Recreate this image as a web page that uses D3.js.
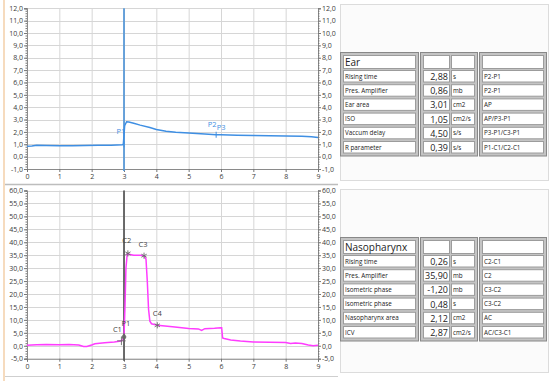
<!DOCTYPE html>
<html>
<head>
<meta charset="utf-8">
<script src="https://cdn.jsdelivr.net/npm/d3@7"></script>
<style>
  body { margin: 0; background: #fff; }
  text { font-family: 'Open Sans', 'Noto Sans', sans-serif; }
</style>
</head>
<body>
<div id="chart"></div>
<script>
// ear pressure curve (top plot)
var earX = [0, 0.15, 0.3, 0.6, 1.0, 1.4, 1.8, 2.2, 2.6, 2.95, 2.98, 3.02, 3.08, 3.15, 3.3, 3.5, 3.8, 4.0, 4.3, 4.6, 5.0, 5.5, 5.85, 6.0, 6.5, 7.0, 7.5, 8.0, 8.5, 8.8, 9.0];
var earY = [0.85, 0.86, 0.93, 0.9, 0.88, 0.89, 0.9, 0.92, 0.93, 0.97, 1.0, 2.5, 2.82, 2.8, 2.7, 2.55, 2.35, 2.2, 2.05, 1.97, 1.92, 1.84, 1.78, 1.77, 1.74, 1.71, 1.69, 1.66, 1.65, 1.6, 1.55];

// nasopharynx pressure curve (bottom plot)
var nasoX = [0, 0.3, 0.6, 1.0, 1.3, 1.6, 1.75, 1.85, 2.0, 2.1, 2.4, 2.7, 2.9, 2.96, 3.0, 3.03, 3.06, 3.1, 3.15, 3.3, 3.5, 3.62, 3.68, 3.72, 3.76, 3.8, 3.85, 4.03, 4.5, 5.0, 5.3, 5.4, 5.5, 5.8, 6.0, 6.02, 6.05, 6.1, 6.3, 6.6, 7.0, 7.5, 8.0, 8.15, 8.3, 8.5, 8.7, 8.85, 9.0];
var nasoY = [0.2, 0.4, 0.5, 0.4, 0.5, 0.3, -0.3, -0.3, 0.3, 0.8, 1.2, 1.5, 1.8, 2.2, 3.5, 15, 30, 35.5, 35.4, 35.0, 35.0, 34.8, 33.5, 25, 14, 9.5, 8.5, 7.9, 7.3, 6.7, 6.5, 5.9, 6.6, 6.8, 7.0, 7.0, 3.0, 2.8, 2.2, 1.8, 1.5, 1.4, 1.3, 0.9, 1.1, 0.9, 0.3, 0.0, 0.2];

// cursor markers
var earMarkNames = ["P1", "P2", "P3"];
var earMarkX = [3.0, 5.85, 5.85];
var earMarkY = [1.0, 1.77, 1.77];
var nasoMarkNames = ["C1", "P1", "C2", "C3", "C4"];
var nasoMarkX = [2.92, 3.0, 3.12, 3.62, 4.03];
var nasoMarkY = [1.9, 3.4, 35.7, 34.8, 7.9];

var xTicks = [0, 1, 2, 3, 4, 5, 6, 7, 8, 9];
var earTicks = [-1, 0, 1, 2, 3, 4, 5, 6, 7, 8, 9, 10, 11, 12];
var nasoTicks = [-5, 0, 5, 10, 15, 20, 25, 30, 35, 40, 45, 50, 55, 60];
var cursorX = 3;

// result tables
var earTitle = "Ear";
var earLabels = ["Rising time", "Pres. Amplifier", "Ear area", "ISO", "Vaccum delay", "R parameter"];
var earValues = [2.88, 0.86, 3.01, 1.05, 4.50, 0.39];
var earUnits = ["s", "mb", "cm2", "cm2/s", "s/s", "s/s"];
var earRefs = ["P2-P1", "P2-P1", "AP", "AP/P3-P1", "P3-P1/C3-P1", "P1-C1/C2-C1"];

var nasoTitle = "Nasopharynx";
var nasoLabels = ["Rising time", "Pres. Amplifier", "Isometric phase", "Isometric phase", "Nasopharynx area", "ICV"];
var nasoValues = [0.26, 35.90, -1.20, 0.48, 2.12, 2.87];
var nasoUnits = ["s", "mb", "mb", "s", "cm2", "cm2/s"];
var nasoRefs = ["C2-C1", "C2", "C3-C2", "C3-C2", "AC", "AC/C3-C1"];

var width = 550,
  height = 381;

var locale = d3.formatLocale({ decimal: ",", thousands: ".", grouping: [3], currency: ["", ""], minus: "-" });
var fmt1 = locale.format(".1f");
var fmt2 = locale.format(".2f");

var svg = d3.select("#chart")
  .append("svg")
  .attr("width", width)
  .attr("height", height);

// window edge + panel separators
svg.append("line").attr("x1", 4).attr("x2", 4).attr("y1", 0).attr("y2", height)
  .attr("stroke", "#f3cfa8").attr("stroke-width", 1.5);
svg.append("line").attr("x1", 5).attr("x2", 338).attr("y1", 184.5).attr("y2", 184.5)
  .attr("stroke", "#bdbdbd").attr("stroke-width", 1.5);
svg.append("line").attr("x1", 5).attr("x2", 338).attr("y1", 376.5).attr("y2", 376.5)
  .attr("stroke", "#cfcfcf").attr("stroke-width", 1);
svg.append("rect").attr("x", 340.5).attr("y", 4.5).attr("width", 208).attr("height", 176)
  .attr("fill", "#fbfbfb").attr("stroke", "#dcdcdc");
svg.append("rect").attr("x", 340.5).attr("y", 189.5).attr("width", 208).attr("height", 183)
  .attr("fill", "#fbfbfb").attr("stroke", "#dcdcdc");

var x = d3.scaleLinear().domain([0, 9]).range([27, 318]);
var yEar = d3.scaleLinear().domain([-1, 12]).range([169, 8.3]);
var yNaso = d3.scaleLinear().domain([-5, 60]).range([358.7, 190.5]);

drawPlot(yEar, earTicks, 0.2, earX, earY, "#3f8fe3", "#5a9ad8");
drawPlot(yNaso, nasoTicks, 1, nasoX, nasoY, "#ff3cff", "#5c5c5c");

// ear markers
var earLabelPos = { "P1": [-3, -10], "P2": [-4, -8], "P3": [5, -5] };
earMarkNames.forEach(function(n, i) {
  var px = x(earMarkX[i]), py = yEar(earMarkY[i]);
  if (n !== "P3") {
    svg.append("line").attr("x1", px).attr("x2", px).attr("y1", py - 3).attr("y2", py + 3)
      .attr("stroke", "#3f8fe3").attr("stroke-width", 1);
  }
  svg.append("text").text(n)
    .attr("x", px + earLabelPos[n][0]).attr("y", py + earLabelPos[n][1])
    .attr("text-anchor", "middle").attr("font-size", "7.5px").attr("fill", "#3f8fe3");
});

// nasopharynx markers
var nasoLabelPos = { "C1": [-4, -9], "P1": [2, -11], "C2": [-1, -10], "C3": [-1, -9], "C4": [0, -9] };
var nasoSymbols = { "C1": d3.symbolPlus, "P1": d3.symbolDiamond, "C2": d3.symbolAsterisk, "C3": d3.symbolAsterisk, "C4": d3.symbolAsterisk };
nasoMarkNames.forEach(function(n, i) {
  var px = x(nasoMarkX[i]), py = yNaso(nasoMarkY[i]);
  svg.append("path")
    .attr("d", d3.symbol().type(nasoSymbols[n]).size(n === "P1" ? 14 : 26)())
    .attr("transform", "translate(" + px + "," + py + ")")
    .attr("fill", n === "P1" ? "#666" : "none")
    .attr("stroke", "#6a6a6a").attr("stroke-width", 0.9);
  svg.append("text").text(n)
    .attr("x", px + nasoLabelPos[n][0]).attr("y", py + nasoLabelPos[n][1])
    .attr("text-anchor", "middle").attr("font-size", "7.5px").attr("fill", "#444");
});

drawTable(52, earTitle, earLabels, earValues, earUnits, earRefs);
drawTable(237, nasoTitle, nasoLabels, nasoValues, nasoUnits, nasoRefs);

function drawPlot(y, yTicks, minorStep, lx, ly, color, cursorColor) {
  var g = svg.append("g");
  var y0 = y.range()[0], y1 = y.range()[1];
  var lo = yTicks[0], hi = yTicks[yTicks.length - 1];
  var minor = d3.range(lo, hi + minorStep / 2, minorStep);

  g.append("rect").attr("x", x(0)).attr("y", y1).attr("width", x(9) - x(0)).attr("height", y0 - y1)
    .attr("fill", "#fff");

  // grid
  g.selectAll(".vgrid").data(xTicks).enter().append("line")
    .attr("x1", function(d) { return x(d) + 0.5; })
    .attr("x2", function(d) { return x(d) + 0.5; })
    .attr("y1", y1).attr("y2", y0)
    .attr("stroke", "#d6d6d6");
  g.selectAll(".hgrid").data(yTicks).enter().append("line")
    .attr("x1", x(0)).attr("x2", x(9))
    .attr("y1", function(d) { return Math.round(y(d)) + 0.5; })
    .attr("y2", function(d) { return Math.round(y(d)) + 0.5; })
    .attr("stroke", "#d6d6d6");

  // axes
  var left = g.append("g").attr("transform", "translate(" + x(0) + ",0)")
    .call(d3.axisLeft(y).tickValues(yTicks).tickSize(3).tickPadding(1).tickFormat(fmt1));
  g.append("g").attr("transform", "translate(" + x(0) + ",0)")
    .call(d3.axisLeft(y).tickValues(minor).tickSize(1.5).tickFormat(""));
  g.append("g").attr("transform", "translate(" + x(9) + ",0)")
    .call(d3.axisRight(y).tickValues(yTicks).tickSize(3).tickPadding(1).tickFormat(fmt1));
  g.append("g").attr("transform", "translate(" + x(9) + ",0)")
    .call(d3.axisRight(y).tickValues(minor).tickSize(1.5).tickFormat(""));
  g.append("g").attr("transform", "translate(0," + y0 + ")")
    .call(d3.axisBottom(x).tickValues(xTicks).tickSize(3).tickPadding(2).tickFormat(d3.format("d")));

  g.selectAll(".domain").attr("stroke", "#8a8a8a");
  g.selectAll(".tick line").attr("stroke", "#777");
  g.selectAll(".tick text").attr("fill", "#3a3a3a").attr("font-size", "7px")
    .attr("font-family", "'Open Sans', 'Noto Sans', sans-serif");
  left.select(".domain").attr("stroke", "#666");

  // cursor
  g.append("line").attr("x1", x(cursorX)).attr("x2", x(cursorX))
    .attr("y1", y1).attr("y2", y0 + 2)
    .attr("stroke", cursorColor).attr("stroke-width", 1.8);

  // signal
  var line = d3.line()
    .x(function(d, i) { return x(lx[i]); })
    .y(function(d, i) { return y(ly[i]); });
  g.append("path").datum(lx)
    .attr("d", line)
    .attr("fill", "none")
    .attr("stroke", color)
    .attr("stroke-width", 1.5);
}

function drawTable(top, title, labels, values, units, refs) {
  var g = svg.append("g");
  var rowH = 11.5, pitch = 14.2, headH = 13;
  var bottomY = top + 3 + headH + 2 + 5 * pitch + rowH + 3;
  var boxes = [[340, 418], [420, 477], [479, 546]];

  boxes.forEach(function(b) {
    g.append("rect").attr("x", b[0] + 0.5).attr("y", top + 0.5)
      .attr("width", b[1] - b[0]).attr("height", bottomY - top)
      .attr("fill", "#c4c4c4").attr("stroke", "#888");
  });

  // cell columns inside each box
  var cols = [[343, 415], [423, 449], [451, 474], [482, 543]];
  var rowsY = [top + 3];
  for (var r = 0; r < labels.length; r++) {
    rowsY.push(top + 3 + headH + 2 + r * pitch);
  }
  rowsY.forEach(function(ry, r) {
    var h = r === 0 ? headH : rowH;
    cols.forEach(function(c) {
      g.append("rect").attr("x", c[0] + 0.5).attr("y", ry + 0.5)
        .attr("width", c[1] - c[0]).attr("height", h)
        .attr("fill", "#fff").attr("stroke", "#9c9c9c");
    });
  });

  g.append("text").text(title)
    .attr("x", cols[0][0] + 2).attr("y", rowsY[0] + headH - 2.5)
    .attr("font-size", "10px").attr("fill", "#222");

  labels.forEach(function(l, i) {
    var ry = rowsY[i + 1];
    g.append("text").text(l)
      .attr("x", cols[0][0] + 2).attr("y", ry + 8.5)
      .attr("font-size", "6.3px").attr("fill", "#222");
    g.append("text").text(fmt2(values[i]))
      .attr("x", cols[1][1] - 1).attr("y", ry + 10)
      .attr("text-anchor", "end")
      .attr("font-size", "9px").attr("fill", "#222");
    g.append("text").text(units[i])
      .attr("x", cols[2][0] + 2).attr("y", ry + 8.5)
      .attr("font-size", "6.3px").attr("fill", "#222");
    g.append("text").text(refs[i])
      .attr("x", cols[3][0] + 2).attr("y", ry + 8.5)
      .attr("font-size", "6.3px").attr("fill", "#222");
  });
}
</script>
</body>
</html>
